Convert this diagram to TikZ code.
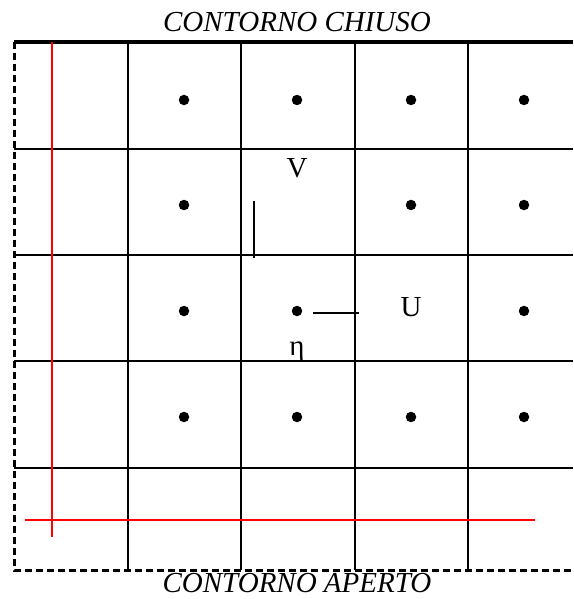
\documentclass[tikz,border=0pt]{standalone}
\usepackage{fontspec}
\setmainfont{Liberation Serif}
\begin{document}
\begin{tikzpicture}[x=1pt,y=-1pt,
  grid/.style={line width=2.2pt,black},
  topedge/.style={line width=3.8pt,black},
  dashedge/.style={line width=3pt,black,dash pattern=on 7pt off 4pt},
  redline/.style={line width=2.2pt,red},
  dot/.style={circle,fill=black,inner sep=0pt,minimum size=10.5pt},
  lbl/.style={font=\fontsize{29}{31}\selectfont,inner sep=0pt},
  ttl/.style={font=\fontsize{29}{31}\selectfont\itshape,inner sep=0pt}]
\useasboundingbox (0,0) rectangle (573,599);
% grid
\foreach \x in {128,241,355,468} \draw[grid] (\x,42) -- (\x,570);
\foreach \y in {149,255,361,468} \draw[grid] (14,\y) -- (573,\y);
\draw[topedge] (14,42) -- (573,42);
\draw[dashedge] (14,42) -- (14,570) -- (573,570);
% red lines
\draw[redline] (52,42) -- (52,537);
\draw[redline] (25,520) -- (535,520);
% dots
\foreach \x/\n in {184/a,297/b,411/c,524/d} \node[dot] (r1\n) at (\x,100) {};
\foreach \x/\n in {184/a,411/c,524/d} \node[dot] (r2\n) at (\x,205) {};
\foreach \x/\n in {184/a,297/b,524/d} \node[dot] (r3\n) at (\x,311) {};
\foreach \x/\n in {184/a,297/b,411/c,524/d} \node[dot] (r4\n) at (\x,417) {};
% velocity marks
\draw[line width=1.6pt] (254,201) -- (254,258);
\draw[line width=1.6pt] (313,313) -- (359,313);
% labels
\node[lbl] (V) at (297,168) {V};
\node[lbl] (U) at (411,307) {U};
\node[lbl] (eta) at (297,352) {η};
\node[ttl] (top) at (297,22) {CONTORNO CHIUSO};
\node[ttl] (bot) at (297,583) {CONTORNO APERTO};
\end{tikzpicture}
\end{document}
